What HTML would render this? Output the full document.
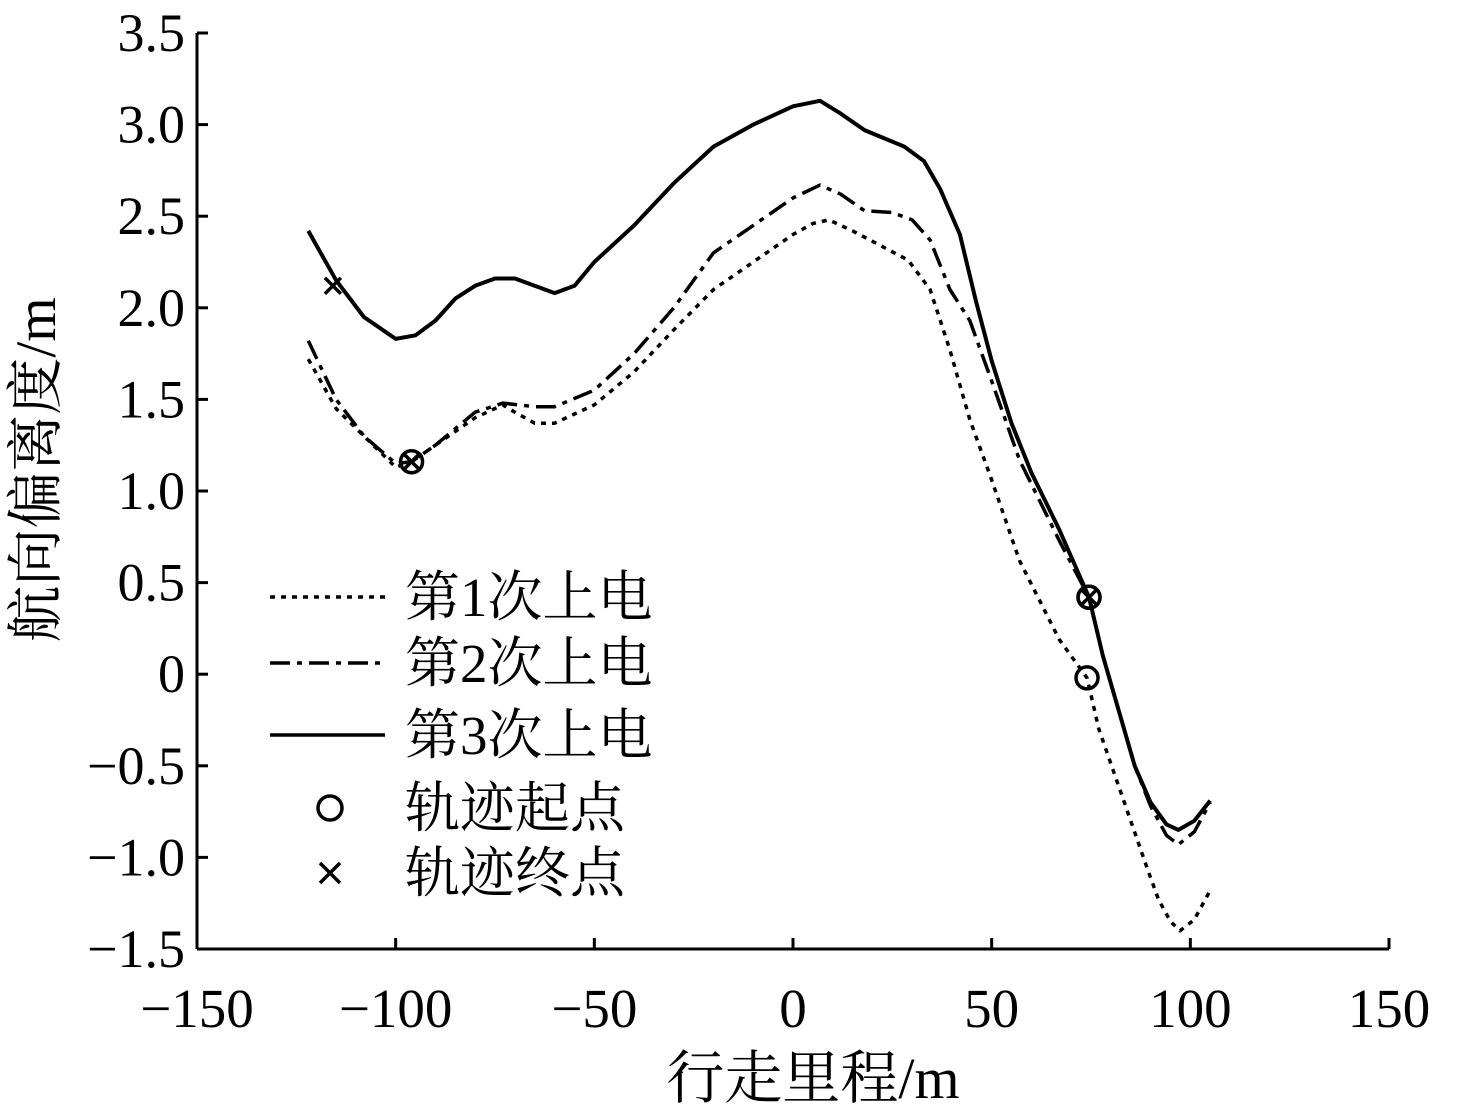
<!DOCTYPE html>
<html><head><meta charset="utf-8"><style>
html,body{margin:0;padding:0;background:#fff;}
svg text{font-family:"Liberation Serif","Noto Serif CJK SC",serif;fill:#000;}
</style></head><body>
<svg id="chart" width="1477" height="1115" viewBox="0 0 1477 1115" xmlns="http://www.w3.org/2000/svg">
<g id="axes"></g>
<g id="plot"></g>
<g id="legend"></g>
</svg>
<script>
const xTicks=[-150,-100,-50,0,50,100,150];
const yTicks=[3.5,3.0,2.5,2.0,1.5,1.0,0.5,0,-0.5,-1.0,-1.5];
const yTickLabels=["3.5","3.0","2.5","2.0","1.5","1.0","0.5","0","\u22120.5","\u22121.0","\u22121.5"];
const xTickLabels=["\u2212150","\u2212100","\u221250","0","50","100","150"];
const s1X=[-122,-115,-108,-100,-96,-90,-80,-73,-70,-65,-60,-50,-40,-30,-20,-10,0,5,9,15,22,29,34.5,39.5,44.5,50,57,67,74,77,81,85,89,92,95,97.4,101,105];
const s1Y=[1.72,1.45,1.3,1.13,1.16,1.25,1.4,1.47,1.43,1.37,1.37,1.47,1.65,1.88,2.1,2.25,2.4,2.46,2.48,2.42,2.34,2.26,2.1,1.77,1.39,1.06,0.62,0.19,-0.02,-0.3,-0.55,-0.8,-1.05,-1.23,-1.35,-1.4,-1.34,-1.18];
const s2X=[-122,-115,-108,-100,-96,-90,-80,-73,-65,-60,-50,-40,-30,-20,-10,0,6.8,12,18,25,30,34.5,39.5,44.5,50,57,67,74.5,78,82,86,90,94,97,101,105];
const s2Y=[1.82,1.5,1.3,1.15,1.16,1.25,1.43,1.48,1.46,1.46,1.55,1.75,2.0,2.3,2.45,2.6,2.67,2.62,2.53,2.52,2.48,2.37,2.1,1.93,1.6,1.17,0.73,0.42,0.1,-0.2,-0.5,-0.72,-0.88,-0.93,-0.86,-0.7];
const s3X=[-122,-115,-108,-100,-95,-90,-85,-80,-75,-70,-65,-60,-55,-50,-40,-30,-20,-10,0,6.8,12,18,28,33,37,42,46,50,55,60,67,74.5,78,82,86,90,94,97,101,105];
const s3Y=[2.42,2.15,1.95,1.83,1.85,1.93,2.05,2.12,2.16,2.16,2.12,2.08,2.12,2.25,2.45,2.68,2.88,3.0,3.1,3.13,3.06,2.97,2.88,2.8,2.65,2.4,2.04,1.71,1.37,1.1,0.79,0.42,0.1,-0.2,-0.5,-0.7,-0.82,-0.85,-0.8,-0.69];
const startX=[74,74.5,74.5,-96];
const startY=[-0.02,0.42,0.42,1.16];
const endX=[-96,-96,-115.8,74.5];
const endY=[1.16,1.16,2.12,0.42];
const legendLabels=["第1次上电","第2次上电","第3次上电","轨迹起点","轨迹终点"];

const NS="http://www.w3.org/2000/svg";
const X0=197,X1=1389,Y0=949,Y1=33;
function sx(v){return X0+(v+150)/300*(X1-X0);}
function sy(v){return Y0-(v+1.5)/5*(Y0-Y1);}
function mk(tag,attrs,parent){const e=document.createElementNS(NS,tag);for(const k in attrs)e.setAttribute(k,attrs[k]);parent.appendChild(e);return e;}
const axes=document.getElementById('axes'),plot=document.getElementById('plot'),legend=document.getElementById('legend');

let e=mk('line',{x1:X0,y1:Y0,x2:X1,y2:Y0,stroke:'#000','stroke-width':3},axes);

e=mk('line',{x1:X0,y1:Y0,x2:X0,y2:Y1,stroke:'#000','stroke-width':3},axes);

xTicks.forEach((t,i)=>{
  const x=sx(t);
  let l=mk('line',{x1:x,y1:Y0,x2:x,y2:Y0-11,stroke:'#000','stroke-width':3},axes);
  
  let tx=mk('text',{x:x,y:1027,'font-size':55,'text-anchor':'middle'},axes);tx.textContent=xTickLabels[i];
  
});
yTicks.forEach((t,i)=>{
  const y=sy(t);
  let l=mk('line',{x1:X0,y1:y,x2:X0+11,y2:y,stroke:'#000','stroke-width':3},axes);
  
  let tx=mk('text',{x:185,y:y+18,'font-size':54,'text-anchor':'end'},axes);tx.textContent=yTickLabels[i];
  
});
let xt=mk('text',{x:813,y:1098,'font-size':58,'text-anchor':'middle'},axes);xt.textContent='行走里程/m';

let yt=mk('text',{x:0,y:0,'font-size':57,'text-anchor':'middle',transform:'translate(55,470) rotate(-90)'},axes);yt.textContent='航向偏离度/m';


const dashes=['5 6','20 7 5 7',''];
const series=[[s1X,s1Y],[s2X,s2Y],[s3X,s3Y]];
series.forEach((s,k)=>{
  const d=s[0].map((v,i)=>(i?'L':'M')+sx(v).toFixed(1)+' '+sy(s[1][i]).toFixed(1)).join(' ');
  const p=mk('path',{d:d,fill:'none',stroke:'#000','stroke-width':k===2?4:3.5,'stroke-dasharray':dashes[k],'stroke-linejoin':'round'},plot);
  
});
function circ(x,y,par,r){return mk('circle',{cx:x,cy:y,r:r||11,fill:'none',stroke:'#000','stroke-width':3.5},par);}
function cross(x,y,par,s){s=s||8;return mk('path',{d:`M${x-s} ${y-s}L${x+s} ${y+s}M${x-s} ${y+s}L${x+s} ${y-s}`,stroke:'#000','stroke-width':3.5},par);}
startX.forEach((v,i)=>{const c=circ(sx(v),sy(startY[i]),plot);});
endX.forEach((v,i)=>{const c=cross(sx(v),sy(endY[i]),plot);});

const ly=[597,663,735,808,873];
for(let i=0;i<3;i++){
  const l=mk('line',{x1:270,y1:ly[i],x2:385,y2:ly[i],stroke:'#000','stroke-width':3.5,'stroke-dasharray':dashes[i]},legend);
  
}
let lc=circ(330,ly[3],legend,12);
let lx=cross(330,ly[4],legend,10);
legendLabels.forEach((t,i)=>{
  const tx=mk('text',{x:405,y:ly[i]+19,'font-size':55},legend);tx.textContent=t;
  
});
</script>
</body></html>
